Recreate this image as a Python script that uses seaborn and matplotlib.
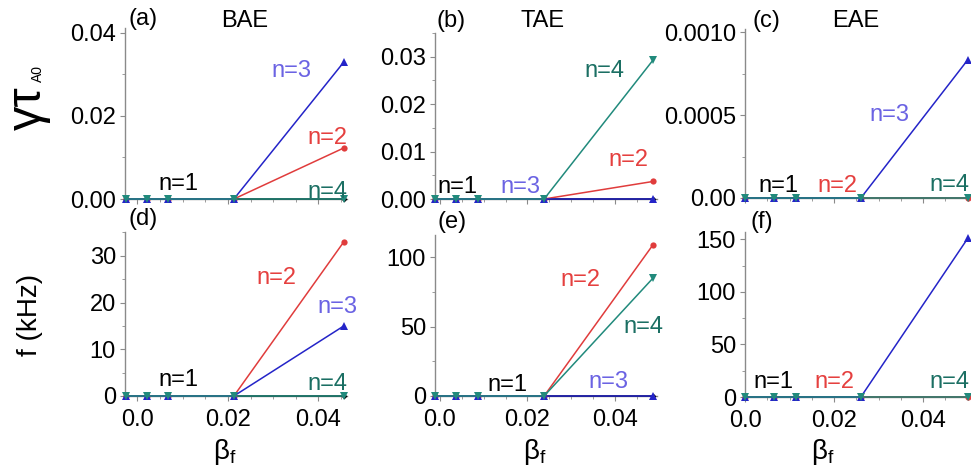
import numpy as np
import pandas as pd
import matplotlib
matplotlib.use('Agg')
import matplotlib.pyplot as plt
import seaborn as sns
from matplotlib.ticker import MultipleLocator, FixedLocator

'''
数据：从图上读出来的值
'''
# beta_f 横坐标 (每列图的点位置略有不同)
beta_bae = [-0.0025, 0.002, 0.0067, 0.0213, 0.0456]
beta_tae = [-0.0011, 0.0037, 0.0087, 0.0238, 0.0487]
beta_eae = [0.0, 0.0065, 0.0115, 0.026, 0.050]

# 增长率 gamma*tau_A0
gam_bae = {1: [0, 0, 0, 0, 0], 2: [0, 0, 0, 0, 0.0123], 3: [0, 0, 0, 0, 0.033], 4: [0, 0, 0, 0, 0]}
gam_tae = {1: [0, 0, 0, 0, 0], 2: [0, 0, 0, 0, 0.0037], 3: [0, 0, 0, 0, 0], 4: [0, 0, 0, 0, 0.0293]}
gam_eae = {1: [0, 0, 0, 0, 0], 2: [0, 0, 0, 0, 0], 3: [0, 0, 0, 0, 0.000834], 4: [0, 0, 0, 0, 0]}

# 频率 f (kHz)
f_bae = {1: [0, 0, 0, 0, 0], 2: [0, 0, 0, 0, 33.0], 3: [0, 0, 0, 0, 15.0], 4: [0, 0, 0, 0, 0]}
f_tae = {1: [0, 0, 0, 0, 0], 2: [0, 0, 0, 0, 109], 3: [0, 0, 0, 0, 0], 4: [0, 0, 0, 0, 85]}
f_eae = {1: [0, 0, 0, 0, 0], 2: [0, 0, 0, 0, 0], 3: [0, 0, 0, 0, 151], 4: [0, 0, 0, 0, 0]}

mode_names = ['BAE', 'TAE', 'EAE']
panel_tags = ['(a)', '(b)', '(c)', '(d)', '(e)', '(f)']

'''
样式
'''
sns.set_style('ticks')
plt.rcParams['font.family'] = ['Liberation Sans', 'DejaVu Sans']
plt.rcParams['mathtext.default'] = 'regular'
plt.rcParams['text.color'] = 'black'
plt.rcParams['xtick.labelcolor'] = 'black'
plt.rcParams['ytick.labelcolor'] = 'black'

line_col = {1: '#000000', 2: '#e03c3c', 3: '#2424c8', 4: '#218a7c'}
text_col = {1: '#000000', 2: '#e5403f', 3: '#6b63e3', 4: '#1b6f63'}
marks = {1: 'D', 2: 'o', 3: '^', 4: 'v'}
msize = {1: 3, 2: 4.5, 3: 5.5, 4: 5.5}
W, H = 971, 475


def px_rect(l, t, r, b):
    return [l / W, (H - b) / H, (r - l) / W, (b - t) / H]


def draw(ax, beta, series):
    for n in [1, 2, 3, 4]:
        sns.lineplot(x=beta, y=series[n], ax=ax, color=line_col[n], marker=marks[n],
                     markersize=msize[n], markeredgewidth=0, linewidth=1.1,
                     errorbar=None, clip_on=False, zorder=3 + n)


def style(ax, xlim, ylim, ymaj, ymin, ylabels, show_x):
    ax.set_xlim(*xlim)
    ax.set_ylim(*ylim)
    ax.xaxis.set_major_locator(FixedLocator([0.0, 0.02, 0.04]))
    ax.xaxis.set_minor_locator(MultipleLocator(0.005))
    ax.yaxis.set_major_locator(FixedLocator(ymaj))
    ax.yaxis.set_minor_locator(MultipleLocator(ymin))
    ax.set_yticklabels(ylabels)
    if show_x:
        ax.set_xticklabels(['0.0', '0.02', '0.04'])
    else:
        ax.tick_params(axis='x', labelbottom=False)
    sns.despine(ax=ax)
    for s in ['left', 'bottom']:
        ax.spines[s].set_color('#8a8a8a')
        ax.spines[s].set_linewidth(1.0)
    ax.tick_params(which='major', direction='out', length=3.5, width=0.8,
                   color='#8a8a8a', labelcolor='black', labelsize=17, pad=3)
    ax.tick_params(axis='x', which='major', pad=6)
    ax.tick_params(which='minor', direction='out', length=2, width=0.6, color='#8a8a8a')
    ax.set_xlabel('')
    ax.set_ylabel('')
    ax.patch.set_alpha(0)


fig = plt.figure(figsize=(W / 100, H / 100), dpi=100)

axa = fig.add_axes(px_rect(125, 28, 347, 199))
axb = fig.add_axes(px_rect(435, 33, 657, 199))
axc = fig.add_axes(px_rect(745, 29, 970, 198))
axd = fig.add_axes(px_rect(125, 232, 347, 396))
axe = fig.add_axes(px_rect(435, 235, 657, 396))
axf = fig.add_axes(px_rect(745, 232, 970, 397))

draw(axa, beta_bae, gam_bae)
draw(axb, beta_tae, gam_tae)
draw(axc, beta_eae, gam_eae)
draw(axd, beta_bae, f_bae)
draw(axe, beta_tae, f_tae)
draw(axf, beta_eae, f_eae)

style(axa, (-0.00276, 0.0463), (0, 0.0412), [0, 0.02, 0.04], 0.01, ['0.00', '0.02', '0.04'], False)
style(axb, (-0.00114, 0.0496), (0, 0.0350), [0, 0.01, 0.02, 0.03], 0.005,
      ['0.00', '0.01', '0.02', '0.03'], False)
style(axc, (0.0, 0.0505), (0, 0.00102), [0, 0.0005, 0.0010], 0.00025, ['0.00', '0.0005', '0.0010'], False)
style(axd, (-0.00276, 0.0463), (0, 35.1), [0, 10, 20, 30], 5, ['0', '10', '20', '30'], True)
style(axe, (-0.00114, 0.0496), (0, 116), [0, 50, 100], 25, ['0', '50', '100'], True)
style(axf, (0.0, 0.0505), (0, 157), [0, 50, 100, 150], 25, ['0', '50', '100', '150'], True)

# n= 标注 (数据坐标)
labels = [
    (axa, [(1, 0.0090, 0.0036), (3, 0.0341, 0.0308), (2, 0.0419, 0.0147), (4, 0.0419, 0.0017)]),
    (axb, [(1, 0.0039, 0.0025), (3, 0.0185, 0.0025), (4, 0.0375, 0.0270), (2, 0.0430, 0.0082)]),
    (axc, [(1, 0.0074, 0.00007), (2, 0.0207, 0.00007), (3, 0.0324, 0.0005), (4, 0.0458, 0.00008)]),
    (axd, [(1, 0.0090, 3.4), (2, 0.0306, 25.2), (3, 0.0441, 19.0), (4, 0.0419, 2.5)]),
    (axe, [(1, 0.0155, 8), (2, 0.0322, 83.6), (4, 0.0464, 49.7), (3, 0.0386, 10)]),
    (axf, [(1, 0.0063, 14), (2, 0.0200, 14), (4, 0.0458, 14)]),
]
for ax, items in labels:
    for n, x, y in items:
        ax.text(x, y, 'n=%d' % n, color=text_col[n], fontsize=17,
                ha='center', va='center', zorder=10, clip_on=False)


def ftext(x, y, s, **kw):
    fig.text(x / W, 1 - y / H, s, ha='center', va='center', **kw)


# 面板标号与标题
for tag, (x, y) in zip(panel_tags, [(143, 19), (451, 21), (766, 21), (143, 219), (452, 222), (762, 222)]):
    ftext(x, y, tag, fontsize=17)
for name, x in zip(mode_names, [245, 543, 856]):
    ftext(x, 21, name, fontsize=17)

# 坐标轴标题
ftext(28, 108, 'γτ', fontsize=35, rotation=90)
ftext(38, 73, 'A0', fontsize=10, rotation=90)
ftext(30, 315, 'f (kHz)', fontsize=20, rotation=90)
for x in [225, 535, 823]:
    ftext(x, 452, r'$\mathregular{β_f}$', fontsize=20)

fig.savefig('out.png', dpi=100)
